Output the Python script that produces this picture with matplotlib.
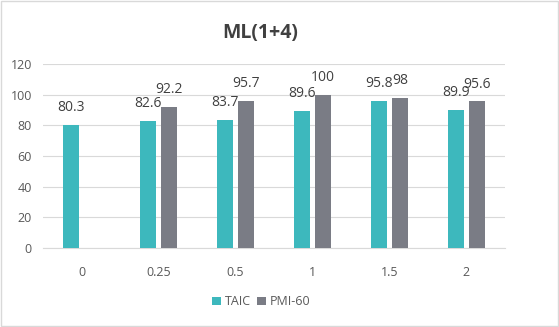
import numpy as np
import matplotlib.pyplot as plt
from matplotlib.patches import Rectangle

categories = ["0", "0.25", "0.5", "1", "1.5", "2"]
taic = [80.3, 82.6, 83.7, 89.6, 95.8, 89.9]
pmi60 = [None, 92.2, 95.7, 100, 98, 95.6]
series_names = ["TAIC", "PMI-60"]
yticks = [0, 20, 40, 60, 80, 100, 120]

teal = "#3DB8BD"
grey = "#7A7C85"
txt = "#595959"

plt.rcParams['font.family'] = ['Open Sans', 'DejaVu Sans']

fig = plt.figure(figsize=(5.59, 3.27), dpi=100)
ax = fig.add_axes([0.077, 0.2416, 0.826, 0.5627])

x = np.arange(len(categories))
w = 0.214
off = 0.136

pmi_vals = [np.nan if v is None else v for v in pmi60]
b1 = ax.bar(x - off, taic, w, color=teal, label=series_names[0], zorder=3)
b2 = ax.bar(x + off, pmi_vals, w, color=grey, label=series_names[1], zorder=3)

for xs, vals in [(x - off, taic), (x + off, pmi60)]:
    for xi, v in zip(xs, vals):
        if v is None:
            continue
        ax.annotate(f"{v:g}", (xi, v), xytext=(0, 10), textcoords="offset points",
                    ha="center", va="baseline", fontsize=10, color="#404040")

ax.set_xlim(-0.5, len(categories) - 0.5)
ax.set_ylim(0, 120)
ax.set_yticks(yticks)
ax.set_xticks(x)
ax.set_xticklabels(categories)
ax.tick_params(axis="both", length=0, labelsize=9, colors=txt)
ax.tick_params(axis="x", pad=13)
ax.tick_params(axis="y", pad=8)
ax.grid(axis="y", color="#D9D9D9", linewidth=0.8, zorder=0)
for s in ["top", "right", "left"]:
    ax.spines[s].set_visible(False)
ax.spines["bottom"].set_color("#D9D9D9")

fig.text(0.465, 0.9, "ML(1+4)", ha="center", va="center", fontsize=14,
         fontweight="bold", color="#404040")

leg = fig.legend(handles=[b1, b2], loc="center", bbox_to_anchor=(0.467, 0.077),
                 ncol=2, frameon=False, fontsize=9, handlelength=0.7, handleheight=0.7,
                 handletextpad=0.3, columnspacing=0.5, labelcolor=txt)

fig.patches.append(Rectangle((0.001, 0.002), 0.997, 0.995, transform=fig.transFigure,
                             fill=False, edgecolor="#D9D9D9", linewidth=1))

fig.savefig("out.png", dpi=100)
